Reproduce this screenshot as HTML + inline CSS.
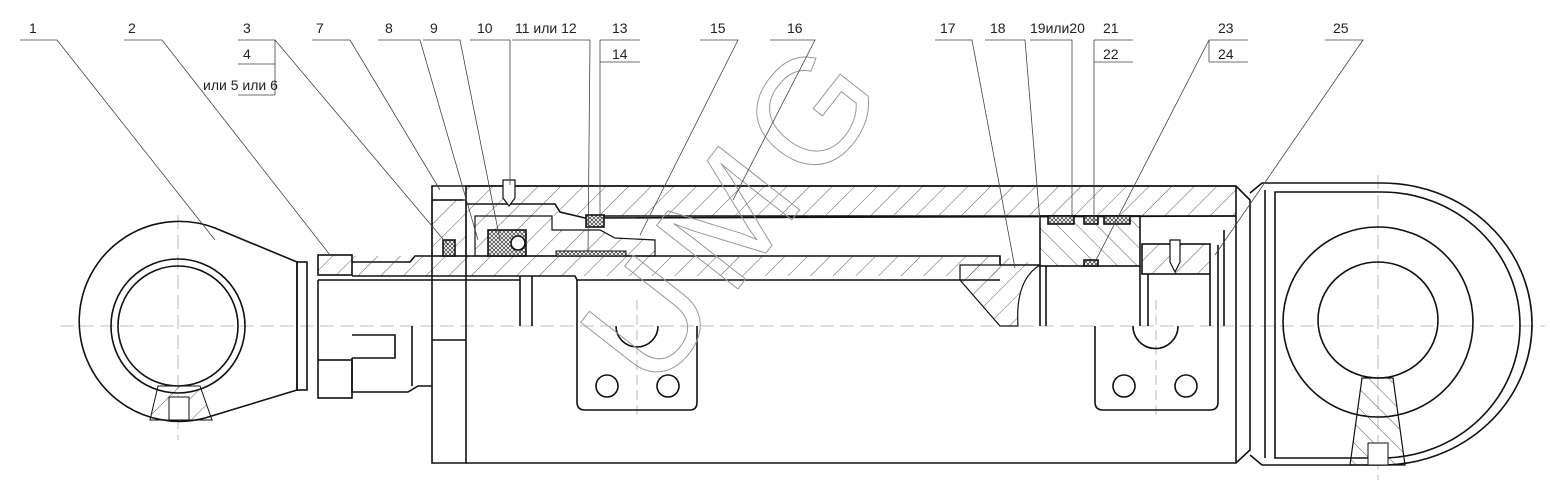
<!DOCTYPE html>
<html><head><meta charset="utf-8"><style>
html,body{margin:0;padding:0;background:#fff;}
svg{display:block;}
text{font-family:"Liberation Sans","Noto Sans CJK SC",sans-serif;font-size:14px;fill:#222;}
</style></head><body>
<svg width="1550" height="487" viewBox="0 0 1550 487" xmlns="http://www.w3.org/2000/svg">
<defs>
<pattern id="h" width="16" height="16" patternUnits="userSpaceOnUse" patternTransform="rotate(45)">
<line x1="0" y1="0" x2="0" y2="16" stroke="#333" stroke-width="0.8"/></pattern>
<pattern id="h2" width="14" height="14" patternUnits="userSpaceOnUse" patternTransform="rotate(-45)">
<line x1="0" y1="0" x2="0" y2="14" stroke="#333" stroke-width="0.8"/></pattern>
<pattern id="x" width="4" height="4" patternUnits="userSpaceOnUse">
<rect width="4" height="4" fill="#fff"/><path d="M0 0L4 4M4 0L0 4" stroke="#333" stroke-width="0.7"/></pattern>
</defs>
<g fill="none" stroke="#111" stroke-width="1.6">
<line x1="60" y1="326" x2="1545" y2="326" stroke="#aaa" stroke-width="0.8" stroke-dasharray="14 6"/>
<line x1="178" y1="215" x2="178" y2="440" stroke="#aaa" stroke-width="0.8" stroke-dasharray="14 6"/>
<line x1="1378" y1="175" x2="1378" y2="480" stroke="#aaa" stroke-width="0.8" stroke-dasharray="14 6"/>
<line x1="637" y1="300" x2="637" y2="420" stroke="#aaa" stroke-width="0.8" stroke-dasharray="10 5"/>
<line x1="1156" y1="300" x2="1156" y2="420" stroke="#aaa" stroke-width="0.8" stroke-dasharray="10 5"/>
<path d="M297 262 L215 228 A100 100 0 1 0 205 418 L297 390 Z"/>
<circle cx="178" cy="326" r="67"/>
<circle cx="178" cy="326" r="60"/>
<path d="M158 386 L150 420 L212 420 L200 386 Z" fill="url(#h)" stroke-width="1"/>
<rect x="169" y="397" width="20" height="23" fill="#fff" stroke-width="1"/>
<rect x="297" y="262" width="10" height="128"/>
<rect x="318" y="255" width="34" height="20" fill="url(#h)"/>
<rect x="318" y="360" width="34" height="38"/>
<path d="M318 280 L318 360"/>
<path d="M352 262 L410 262 L415 256 L1000 256 L1000 265 L1040 265" />
<rect x="352" y="256" width="648" height="20" fill="url(#h)" stroke="none"/>
<path d="M352 276 L575 276 L577 280 L1000 280"/>
<path d="M318 280 L520 280"/>
<line x1="520" y1="276" x2="520" y2="326"/><line x1="532" y1="276" x2="532" y2="326"/>
<line x1="577" y1="280" x2="577" y2="326"/>
<path d="M352 335 L395 335 L395 358 L352 358"/>
<path d="M352 358 L352 392 L408 392 L418 386 L432 386"/>
<path d="M412 326 L412 386"/>
<path d="M432 186 L466 186 L466 463 L432 463 Z"/>
<path d="M432 200 L463 200"/>
<rect x="432" y="200" width="34" height="56" fill="url(#h)" stroke-width="1.2"/>
<path d="M432 340 L466 340"/>
<path d="M466 186 L1236 186 L1250 200 L1250 450 L1236 463 L466 463"/>
<path d="M466 204 L555 204 L560 212 L585 218 L1236 216"/>
<rect x="466" y="186" width="770" height="30" fill="url(#h)" stroke="none"/>
<path d="M466 186 L1236 186 M600 216 L1236 216"/>
<line x1="1236" y1="186" x2="1236" y2="463"/>
<path d="M475 216 L552 216 L552 230 L600 230 L615 238 L655 240 L655 256 L475 256 Z" fill="url(#h)" stroke-width="1.2"/>
<rect x="488" y="230" width="38" height="26" fill="url(#x)"/>
<circle cx="518" cy="243" r="7" fill="#fff"/>
<rect x="443" y="240" width="12" height="16" fill="url(#x)"/>
<rect x="586" y="215" width="18" height="12" fill="url(#x)"/>
<rect x="556" y="251" width="70" height="5" fill="url(#x)" stroke-width="1"/>
<path d="M503 180 L515 180 L515 198 L509 206 L503 198 Z" fill="#fff" stroke-width="1.2"/>
<path d="M1000 256 L1000 265 L960 265 L960 280 L1000 326 L1018 326 Q1015 280 1040 265" fill="url(#h)" stroke-width="1.2"/>
<rect x="1040" y="216" width="100" height="50" fill="url(#h2)"/>
<rect x="1048" y="216" width="26" height="8" fill="url(#x)"/>
<rect x="1084" y="216" width="14" height="8" fill="url(#x)"/>
<rect x="1104" y="216" width="26" height="8" fill="url(#x)"/>
<rect x="1084" y="260" width="14" height="6" fill="url(#x)"/>
<line x1="1040" y1="266" x2="1040" y2="326"/><line x1="1046" y1="266" x2="1046" y2="326"/>
<rect x="1142" y="244" width="68" height="30" fill="url(#h)"/>
<path d="M1170 240 L1180 240 L1180 262 L1175 272 L1170 262 Z" fill="#fff" stroke-width="1.2"/>
<path d="M1140 266 L1140 326 M1148 274 L1148 326 M1210 274 L1210 326 M1218 245 L1218 326 M1224 230 L1224 326"/>
<path d="M577 326 L577 402 Q577 410 585 410 L690 410 Q697 410 697 402 L697 326"/>
<path d="M616 326 A21 21 0 0 0 658 326"/>
<circle cx="607" cy="386" r="11"/><circle cx="668" cy="386" r="11"/>
<path d="M1095 326 L1095 402 Q1095 410 1103 410 L1210 410 Q1218 410 1218 402 L1218 326"/>
<path d="M1133 326 A22 22 0 0 0 1178 326"/>
<circle cx="1124" cy="386" r="11"/><circle cx="1186" cy="386" r="11"/>
<path d="M1250 193 L1262 183 L1382 183 A150 141 0 0 1 1382 465 L1262 465 L1250 455"/>
<path d="M1265 190 L1265 458"/>
<path d="M1275 192 L1382 192 A138 133 0 0 1 1382 458 L1275 458 Z"/>
<circle cx="1378" cy="322" r="95"/>
<ellipse cx="1378" cy="320" rx="60" ry="58"/>
<path d="M1362 378 L1350 465 L1405 465 L1393 378 Z" fill="url(#h2)" stroke-width="1.2"/>
<rect x="1368" y="443" width="20" height="22" fill="#fff" stroke-width="1"/>
</g>
<text x="0" y="0" transform="translate(655,395) rotate(-52)" style="font-size:150px;fill:none;stroke:#999;stroke-width:1;letter-spacing:14px">UMG</text>
<g stroke="#444" stroke-width="0.8" fill="none">
<path d="M20 40H57L215 240"/>
<path d="M124 40H162L330 255"/>
<path d="M238 40H275L448 245M238 64H275M238 95H275M275 40V95"/>
<path d="M312 40H350L440 190"/>
<path d="M378 40H420L478 240"/>
<path d="M423 40H460L500 240"/>
<path d="M470 40H510L510 185"/>
<path d="M512 40H590L588 252"/>
<path d="M600 40H640M600 62H640M600 40V218"/>
<path d="M700 40H738L640 235"/>
<path d="M770 40H815L733 200"/>
<path d="M935 40H972L1015 268"/>
<path d="M985 40H1025L1040 222"/>
<path d="M1030 40H1072L1072 218"/>
<path d="M1094 40H1133M1094 62H1133M1094 40V225"/>
<path d="M1209 40H1248M1209 62H1248M1209 40V62M1209 40L1095 262"/>
<path d="M1325 40H1363L1215 255"/>
</g>
<g>
<text x="29" y="33">1</text><text x="128" y="33">2</text><text x="243" y="33">3</text>
<text x="243" y="59">4</text><text x="203" y="90">или  5  или  6</text>
<text x="316" y="33">7</text><text x="385" y="33">8</text><text x="430" y="33">9</text>
<text x="477" y="33">10</text><text x="515" y="33">11 или 12</text>
<text x="612" y="33">13</text><text x="612" y="59">14</text>
<text x="710" y="33">15</text><text x="787" y="33">16</text>
<text x="940" y="33">17</text><text x="990" y="33">18</text><text x="1030" y="33">19или20</text>
<text x="1103" y="33">21</text><text x="1103" y="59">22</text>
<text x="1218" y="33">23</text><text x="1218" y="59">24</text><text x="1333" y="33">25</text>
</g>
</svg>
</body></html>
